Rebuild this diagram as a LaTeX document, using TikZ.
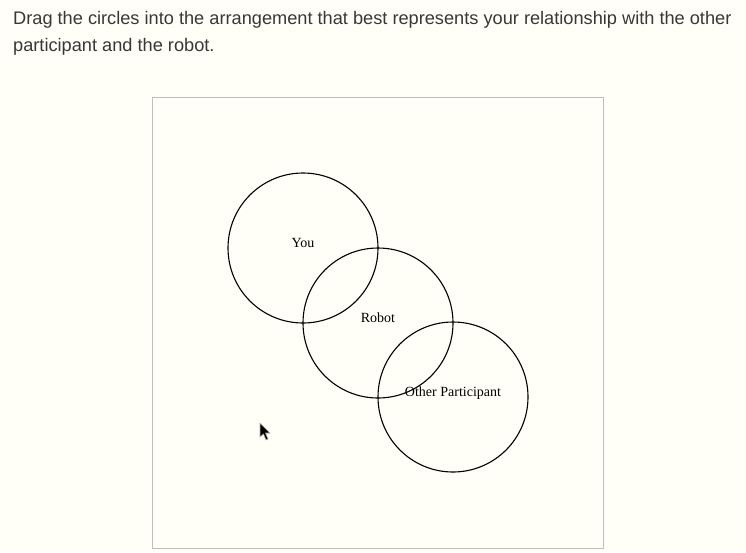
\documentclass[tikz,border=0pt]{standalone}
\usepackage{fontspec}
\setmainfont{Liberation Serif}
\newfontfamily\headfont{Liberation Sans}
\begin{document}
\begin{tikzpicture}[x=1pt,y=-1pt,
  headtext/.style={anchor=base west,inner sep=0pt,font=\headfont\fontsize{18.2}{21}\selectfont,text=black!78},
  ring/.style={circle,draw=black,line width=1.1pt,minimum size=150pt,inner sep=0pt},
  ringlabel/.style={inner sep=0pt,font=\fontsize{14}{16}\selectfont,text=black},
  frame/.style={draw=black!25,line width=0.6pt}]
\useasboundingbox[fill=yellow!3] (0,0) rectangle (746,552);
\node[headtext] (l1) at (13,24) {Drag the circles into the arrangement that best represents your relationship with the other};
\node[headtext] (l2) at (13,51) {participant and the robot.};
\draw[frame] (152.5,97.5) rectangle (603.5,548.5);
\node[ring] (you) at (303,248) {};
\node[ring] (robot) at (378,323) {};
\node[ring] (other) at (453,397) {};
\node[ringlabel] (youl) at (303,243) {You};
\node[ringlabel] (robotl) at (378,318) {Robot};
\node[ringlabel] (otherl) at (453,393) {Other Participant};
\fill[black,draw=gray!60,line width=0.6pt,line join=round] (260,423) -- (260,437) -- (263.5,434) -- (266,440) -- (268,439) -- (265.5,433) -- (270,433) -- cycle;
\end{tikzpicture}
\end{document}
